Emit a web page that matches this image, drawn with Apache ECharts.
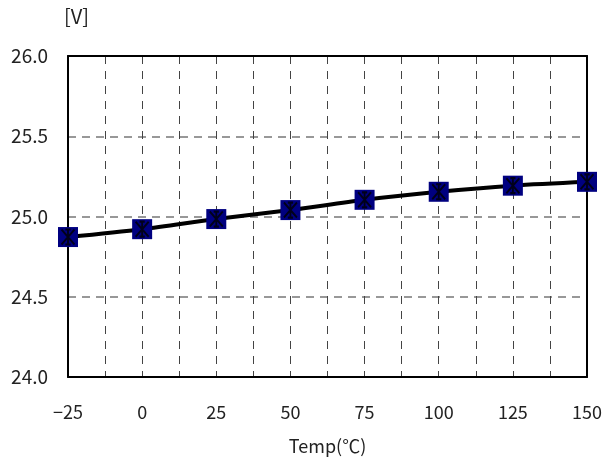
<!DOCTYPE html>
<html><head><meta charset="utf-8">
<script src="https://cdn.jsdelivr.net/npm/echarts@6/dist/echarts.min.js"></script>
<style>html,body{margin:0;padding:0;background:#fff}#c{width:605px;height:461px}</style>
</head><body><div id="c"></div>
<script>
const temps = [-25, 0, 25, 50, 75, 100, 125, 150];
const volts = [24.872, 24.921, 24.984, 25.040, 25.104, 25.154, 25.192, 25.216];
const yUnit = '[V]';
const xTitle = 'Temp(℃)';
const FONT = '"Noto Sans CJK KR", sans-serif';
const pts = temps.map((t, i) => [t, volts[i]]);
const frameLine = {show: true, onZero: false, lineStyle: {color: '#000', width: 2}};
const chart = echarts.init(document.getElementById('c'));
chart.setOption({
  animation: false,
  grid: {left: 68, right: 17, top: 56, bottom: 84},
  graphic: [{type: 'text', left: 64, top: 6, style: {text: yUnit, font: '20px ' + FONT, fill: '#222'}}],
  xAxis: [{
    type: 'value', min: -25, max: 150, interval: 12.5,
    name: xTitle, nameLocation: 'middle', nameGap: 60,
    nameTextStyle: {fontFamily: FONT, fontSize: 18, color: '#222'},
    axisLine: frameLine, axisTick: {show: false},
    axisLabel: {fontFamily: FONT, fontSize: 18, color: '#222', margin: 26,
      formatter: v => (Math.abs(v % 25) < 1e-9 ? String(v).replace('-', '\u2212') : '')},
    splitLine: {show: true, lineStyle: {color: '#444', width: 1, type: [8, 7]}}
  }, {
    type: 'value', position: 'top', min: -25, max: 150, interval: 12.5,
    axisLine: frameLine, axisTick: {show: false}, axisLabel: {show: false}, splitLine: {show: false}
  }],
  yAxis: [{
    type: 'value', min: 24, max: 26, interval: 0.5,
    axisLine: frameLine, axisTick: {show: false},
    axisLabel: {fontFamily: FONT, fontSize: 19, color: '#222', margin: 20, formatter: v => v.toFixed(1)},
    splitLine: {show: true, lineStyle: {color: '#777', width: 1.5, type: [8, 6]}}
  }, {
    type: 'value', position: 'right', min: 24, max: 26, interval: 0.5,
    axisLine: frameLine, axisTick: {show: false}, axisLabel: {show: false}, splitLine: {show: false}
  }],
  series: [
    {type: 'line', data: pts, smooth: 0.3, lineStyle: {color: '#000', width: 4},
     symbol: 'rect', symbolSize: 20, itemStyle: {color: '#000080'}, z: 3},
    {type: 'scatter', data: pts, symbol: 'path://M0,0L10,12M10,0L0,12M5,0L5,12M3,0L7,0M3,12L7,12', symbolSize: [13, 15],
     itemStyle: {color: 'none', borderColor: '#000', borderWidth: 2}, z: 4}
  ]
});
</script></body></html>
